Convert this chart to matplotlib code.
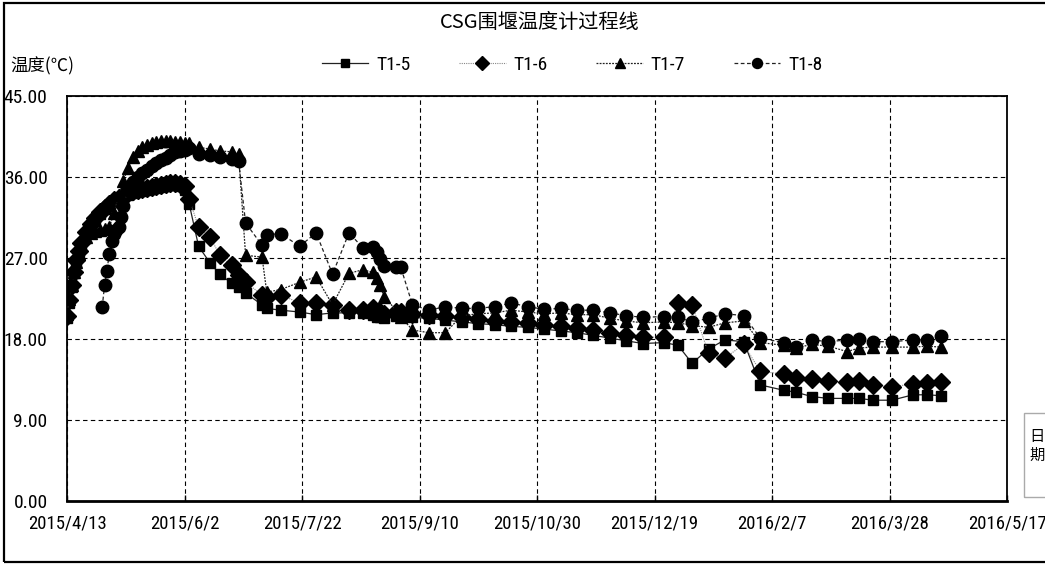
import matplotlib
matplotlib.use("Agg")
import matplotlib.pyplot as plt
import matplotlib.font_manager as fm
from matplotlib.patches import Rectangle
from matplotlib.lines import Line2D
import pandas as pd

# ---------------- data ----------------
title = "CSG围堰温度计过程线"
y_label = "温度(℃)"
x_label = "日\n期"
series_names = ["T1-5", "T1-6", "T1-7", "T1-8"]

x_tick_labels = ["2015/4/13", "2015/6/2", "2015/7/22", "2015/9/10", "2015/10/30",
                 "2015/12/19", "2016/2/7", "2016/3/28", "2016/5/17"]
y_ticks = [0, 9, 18, 27, 36, 45]

# early, dense readings (T1-5, T1-6, T1-7)
early_dates = ["2015-04-13", "2015-04-14", "2015-04-15", "2015-04-16", "2015-04-17",
               "2015-04-18", "2015-04-19", "2015-04-21", "2015-04-23", "2015-04-25",
               "2015-04-27", "2015-04-29", "2015-05-01", "2015-05-03", "2015-05-05",
               "2015-05-07", "2015-05-09", "2015-05-11", "2015-05-13", "2015-05-15",
               "2015-05-17", "2015-05-19", "2015-05-21", "2015-05-23", "2015-05-25",
               "2015-05-27", "2015-05-29", "2015-05-31", "2015-06-02", "2015-06-04"]
t15_early = [20.3, 22.0, 23.8, 25.3, 26.6, 27.6, 28.5, 29.7, 30.6, 31.3,
             31.9, 32.4, 32.8, 33.2, 33.5, 33.8, 34.0, 34.2, 34.4, 34.5,
             34.6, 34.7, 34.8, 34.9, 35.0, 35.1, 35.1, 35.0, 34.6, 33.0]
t16_early = [20.6, 22.3, 24.0, 25.5, 26.8, 27.8, 28.7, 29.9, 30.8, 31.5,
             32.1, 32.6, 33.0, 33.4, 33.7, 34.0, 34.2, 34.4, 34.6, 34.7,
             34.8, 34.9, 35.0, 35.1, 35.2, 35.3, 35.3, 35.2, 35.0, 33.6]
t17_early = [20.8, 22.4, 24.0, 25.4, 26.6, 27.5, 28.3, 29.3, 29.8, 30.0,
             30.1, 30.2, 30.4, 32.0, 34.0, 35.6, 37.0, 38.2, 38.9, 39.3,
             39.6, 39.8, 39.9, 40.0, 40.0, 40.0, 39.9, 39.9, 39.8, 39.8]

# early readings of T1-8 (starts later)
t18_early_dates = ["2015-04-28", "2015-04-29", "2015-04-30", "2015-05-01", "2015-05-02",
                   "2015-05-03", "2015-05-04", "2015-05-05", "2015-05-06", "2015-05-07",
                   "2015-05-09", "2015-05-11", "2015-05-13", "2015-05-15", "2015-05-17",
                   "2015-05-19", "2015-05-21", "2015-05-23", "2015-05-25", "2015-05-27",
                   "2015-05-29", "2015-05-31", "2015-06-02", "2015-06-04"]
t18_early = [21.6, 24.0, 25.6, 27.5, 28.9, 29.7, 30.1, 30.4, 31.6, 32.8,
             34.6, 35.5, 36.0, 36.4, 36.8, 37.2, 37.6, 37.9, 38.1, 38.4,
             38.8, 38.9, 39.0, 39.2]

# later, sparser readings (all four gauges)
late_dates = ["2015-06-08", "2015-06-13", "2015-06-17", "2015-06-22", "2015-06-25", "2015-06-28",
              "2015-07-05", "2015-07-07", "2015-07-13", "2015-07-21", "2015-07-28",
              "2015-08-04", "2015-08-11", "2015-08-17", "2015-08-21", "2015-08-23", "2015-08-24",
              "2015-08-26", "2015-08-31",
              "2015-09-02", "2015-09-07", "2015-09-14", "2015-09-21", "2015-09-28",
              "2015-10-05", "2015-10-12", "2015-10-19", "2015-10-26",
              "2015-11-02", "2015-11-09", "2015-11-16", "2015-11-23", "2015-11-30",
              "2015-12-07", "2015-12-14", "2015-12-23", "2015-12-29",
              "2016-01-04", "2016-01-11", "2016-01-18", "2016-01-26",
              "2016-02-02", "2016-02-12", "2016-02-17", "2016-02-24",
              "2016-03-02", "2016-03-10", "2016-03-15", "2016-03-21", "2016-03-29",
              "2016-04-07", "2016-04-13", "2016-04-19"]
t15_late = [28.3, 26.4, 25.2, 24.2, 23.8, 23.1,
            21.8, 21.4, 21.2, 21.0, 20.7,
            20.9, 20.9, 20.9, 20.7, 20.4, 20.4, 20.3, 20.6,
            20.6, 20.4, 20.3, 20.1, 19.9,
            19.7, 19.6, 19.4, 19.3,
            19.1, 18.9, 18.7, 18.4, 18.1,
            17.8, 17.5, 17.6, 17.3,
            15.3, 16.9, 17.9, 17.7,
            12.9, 12.3, 12.1, 11.6,
            11.4, 11.4, 11.4, 11.2, 11.2,
            11.8, 11.8, 11.7]
t16_late = [30.4, 29.3, 27.3, 26.2, 25.1, 24.3,
            22.9, 22.7, 22.9, 22.0, 22.0,
            21.8, 21.2, 21.2, 21.4, 21.0, 21.0, 20.8, 21.0,
            21.0, 20.8, 20.7, 20.6, 20.4,
            20.2, 20.0, 19.9, 19.8,
            19.6, 19.4, 19.2, 19.0, 18.7,
            18.4, 18.2, 18.2, 22.0,
            21.8, 16.4, 15.9, 17.4,
            14.4, 14.1, 13.7, 13.6,
            13.3, 13.2, 13.3, 12.9, 12.7,
            13.0, 13.1, 13.2]
t17_late = [39.3, 39.1, 38.9, 38.8, 38.6, 27.3,
            27.1, 23.2, 23.5, 24.3, 24.9,
            21.8, 25.3, 25.7, 25.4, 24.8, 24.0, 22.7, 21.2,
            20.5, 19.0, 18.7, 18.7, 20.6,
            20.8, 20.9, 21.2, 21.0,
            20.8, 20.9, 20.7, 20.7, 20.3,
            20.0, 19.8, 19.9, 19.8,
            19.5, 19.3, 19.8, 20.0,
            17.6, 17.3, 17.0, 17.4,
            17.2, 16.6, 17.0, 17.1, 17.1,
            17.1, 17.2, 17.1]
t18_late = [38.6, 38.4, 38.2, 38.0, 37.8, 30.9,
            28.4, 29.6, 29.7, 28.3, 29.8,
            25.2, 29.8, 28.1, 28.2, 27.7, 26.9, 26.1, 26.0,
            26.0, 21.8, 21.2, 21.6, 21.4,
            21.4, 21.6, 22.0, 21.6,
            21.3, 21.4, 21.2, 21.2, 20.9,
            20.6, 20.4, 20.5, 20.4,
            19.9, 20.3, 20.8, 20.6,
            18.1, 17.6, 17.1, 17.9,
            17.7, 17.9, 18.0, 17.7, 17.7,
            17.9, 17.9, 18.3]

# ---------------- fonts ----------------
ttf = fm.fontManager.ttflist
names = {f.name for f in ttf}
narrow = None
narrow_stretch = "normal"
for cand in ["Liberation Sans Narrow", "Roboto Condensed", "Open Sans Condensed",
             "DejaVu Sans Condensed", "Noto Sans Condensed"]:
    if cand in names:
        narrow = cand
        break
if narrow is None:
    for fam in ["DejaVu Sans", "Noto Sans", "Open Sans", "Roboto"]:
        if any(f.name == fam and str(f.stretch) in ("condensed", "semi-condensed", "extra-condensed")
               for f in ttf):
            narrow = fam
            narrow_stretch = "condensed"
            break
is_narrow = narrow is not None
if narrow is None:
    narrow = "Liberation Sans"
cjk = "Noto Sans CJK SC"
plt.rcParams["font.family"] = [narrow, cjk, "DejaVu Sans"]
plt.rcParams["font.stretch"] = narrow_stretch

xtick_fs = 13.5 if is_narrow else 11
ytick_fs = 14 if is_narrow else 11.5
leg_fs = 14 if is_narrow else 11.5

# ---------------- figure ----------------
W, H = 1045, 565
fig = plt.figure(figsize=(W / 100, H / 100), dpi=100)
ax = fig.add_axes([67 / W, 1 - 501 / H, (1007 - 67) / W, (501 - 96) / H])

styles = [
    dict(color="#222222", linestyle="-", linewidth=0.9, marker="s", markersize=7.3),
    dict(color="#888888", linestyle=(0, (1, 1)), linewidth=0.8, marker="D", markersize=8.8),
    dict(color="#222222", linestyle=(0, (1.5, 1)), linewidth=0.9, marker="^", markersize=8.3),
    dict(color="#222222", linestyle=(0, (3, 2)), linewidth=0.9, marker="o", markersize=9),
]

x5 = pd.to_datetime(early_dates + late_dates)
x8 = pd.to_datetime(t18_early_dates + late_dates)
series = [
    (x5, t15_early + t15_late),
    (x5, t16_early + t16_late),
    (x5, t17_early + t17_late),
    (x8, t18_early + t18_late),
]
handles = []
for (xs, ys), st, name in zip(series, styles, series_names):
    st = dict(st)
    st["markerfacecolor"] = "black"
    st["markeredgecolor"] = "black"
    ax.plot(xs, ys, zorder=3, **st)
    hst = dict(st)
    hst["markersize"] = st["markersize"] * 0.8
    handles.append(Line2D([], [], label=name, **hst))

tick_dates = pd.to_datetime(x_tick_labels, format="%Y/%m/%d")
ax.set_xlim(tick_dates[0], tick_dates[-1])
ax.set_xticks(tick_dates)
ax.set_xticklabels(x_tick_labels, fontsize=xtick_fs)
ax.set_ylim(y_ticks[0], y_ticks[-1])
ax.set_yticks(y_ticks)
ax.set_yticklabels([f"{v:.2f}" for v in y_ticks], fontsize=ytick_fs)

ax.grid(True, color="black", linestyle=(0, (4, 3)), linewidth=0.8)
ax.tick_params(axis="x", direction="in", length=4, width=1, pad=10)
ax.tick_params(axis="y", length=0, pad=14)
for s in ax.spines.values():
    s.set_color("black")
    s.set_linewidth(1.3)
ax.spines["bottom"].set_linewidth(2.0)

# title, axis labels
fig.text(540 / W, 1 - 22 / H, title, ha="center", va="center", fontsize=14.5,
         family=[cjk, "DejaVu Sans"], stretch="normal")
fig.text(10 / W, 1 - 66 / H, y_label, ha="left", va="center", fontsize=12.5,
         family=[cjk, "DejaVu Sans"], stretch="normal")

leg = fig.legend(handles=handles, loc="center", bbox_to_anchor=(572 / W, 1 - 65 / H),
                 ncol=4, frameon=False, fontsize=leg_fs, handlelength=2.4,
                 columnspacing=2.5 if is_narrow else 2.9, handletextpad=0.4, borderaxespad=0)

# outer frame
fig.add_artist(Rectangle((4 / W, 1 - 562 / H), 1.2, (562 - 3) / H, transform=fig.transFigure,
                         fill=False, edgecolor="black", linewidth=1.6))
# x label box
fig.add_artist(Rectangle((1024 / W, 1 - 497 / H), 0.1, (497 - 413) / H, transform=fig.transFigure,
                         fill=False, edgecolor="#aaaaaa", linewidth=1.0))
fig.text(1037 / W, 1 - 446 / H, x_label, ha="center", va="center", fontsize=11,
         linespacing=1.1, family=[cjk, "DejaVu Sans"], stretch="normal")

fig.savefig("out.png", dpi=100)
